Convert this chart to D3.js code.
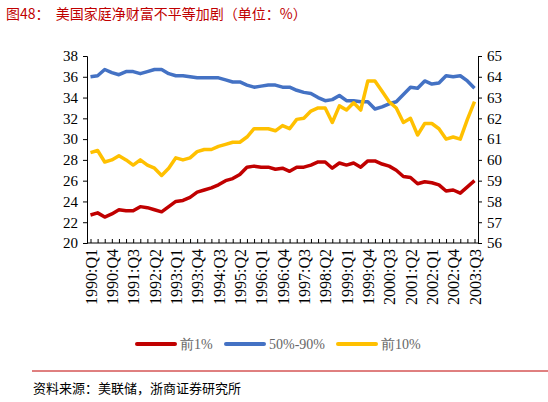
<!DOCTYPE html>
<html><head><meta charset="utf-8">
<script src="https://cdn.jsdelivr.net/npm/d3@7"></script>
<style>body{margin:0;background:#fff}</style></head>
<body><svg id="c" width="548" height="402"></svg>
<script>
// quarters 1990:Q1 .. 2003:Q3
const quarters = [];
for (let y = 1990; y <= 2003; y++) for (let q = 1; q <= 4; q++) if (!(y === 2003 && q === 4)) quarters.push(y + ":Q" + q);

const top1 = [22.7,22.9,22.5,22.8,23.2,23.1,23.1,23.5,23.4,23.2,
  23.0,23.5,24.0,24.1,24.4,24.9,25.1,25.3,25.6,26.0,
  26.2,26.6,27.3,27.4,27.3,27.3,27.1,27.2,26.9,27.3,
  27.3,27.5,27.8,27.8,27.2,27.7,27.5,27.7,27.3,27.9,
  27.9,27.6,27.4,27.0,26.4,26.3,25.7,25.9,25.8,25.6,
  25.0,25.1,24.8,25.4,26.0];
const mid50_90 = [36.0,36.1,36.7,36.4,36.2,36.5,36.5,36.3,36.5,36.7,
  36.7,36.3,36.1,36.1,36.0,35.9,35.9,35.9,35.9,35.7,
  35.5,35.5,35.2,35.0,35.1,35.2,35.2,35.0,35.0,34.7,
  34.5,34.4,34.0,33.7,33.8,34.2,33.7,33.7,33.6,33.6,
  32.9,33.1,33.4,33.6,34.3,35.0,34.9,35.6,35.3,35.4,
  36.1,36.0,36.1,35.6,34.9];
// right axis
const top10 = [60.35,60.45,59.9,60.0,60.2,60.0,59.75,60.0,59.75,59.6,
  59.25,59.6,60.1,60.0,60.1,60.4,60.5,60.5,60.65,60.75,
  60.85,60.85,61.1,61.5,61.5,61.5,61.4,61.65,61.5,61.95,
  62.0,62.35,62.5,62.5,61.8,62.6,62.4,62.75,62.4,63.8,
  63.8,63.3,62.8,62.5,61.8,62.0,61.2,61.75,61.75,61.5,
  61.0,61.1,61.0,61.95,62.8];

const leftTicks = d3.range(20, 39, 2);
const rightTicks = d3.range(56, 66, 1);

const svg = d3.select("#c");
const serif = "'Liberation Serif', serif";
const cjk = "'Noto Sans CJK SC', sans-serif";

svg.append("text").attr("x", 6).attr("y", 19).attr("fill", "#c00000")
  .attr("font-family", cjk).attr("font-size", 14).attr("xml:space", "preserve")
  .text("图48：  美国家庭净财富不平等加剧（单位：%）");

const x0 = 87, x1 = 478, yT = 56, yB = 243;
const x = d3.scalePoint().domain(quarters).range([x0 + 3.5, x1 - 3.5]);
const yL = d3.scaleLinear().domain([20, 38]).range([yB, yT]);
const yR = d3.scaleLinear().domain([56, 65]).range([yB, yT]);

const ax = (g) => g.selectAll("text").attr("font-family", serif).attr("font-size", 15).attr("fill", "#000");
svg.append("g").attr("transform", `translate(${x0},0)`)
  .call(d3.axisLeft(yL).tickValues(leftTicks).tickSize(4).tickPadding(5)).call(ax);
svg.append("g").attr("transform", `translate(${x1},0)`)
  .call(d3.axisRight(yR).tickValues(rightTicks).tickSize(4).tickPadding(5)).call(ax);
const xg = svg.append("g").attr("transform", `translate(0,${yB})`)
  .call(d3.axisBottom(x).tickSize(-4).tickFormat(d => quarters.indexOf(d) % 3 === 0 ? d : ""));
xg.select(".domain").attr("d", `M${x0},0H${x1}`);
xg.selectAll(".tick text").attr("font-family", serif).attr("font-size", 16).attr("fill", "#000")
  .attr("transform", "rotate(-90)").attr("text-anchor", "end").attr("dx", "-6").attr("dy", "0.35em")
  .attr("x", 0).attr("y", 0);
svg.selectAll(".domain").attr("stroke", "#000");

const line = (y) => d3.line().x((d, i) => x(quarters[i])).y(d => y(d));
const series = [
  {name: "前1%", data: top1, y: yL, color: "#c00000"},
  {name: "50%-90%", data: mid50_90, y: yL, color: "#4472c4"},
  {name: "前10%", data: top10, y: yR, color: "#ffc000"}
];
series.forEach(s => svg.append("path").datum(s.data).attr("d", line(s.y))
  .attr("fill", "none").attr("stroke", s.color).attr("stroke-width", 3.5).attr("stroke-linejoin", "round"));

const legX = [137, 226, 338];
series.forEach((s, i) => {
  const g = svg.append("g").attr("transform", `translate(${legX[i]},344)`);
  g.append("line").attr("x2", 38).attr("stroke", s.color).attr("stroke-width", 4).attr("stroke-linecap", "round");
  g.append("text").attr("x", 43).attr("y", 5).attr("font-family", serif).attr("font-size", 14)
    .attr("fill", "#666").text(s.name);
});

svg.append("line").attr("x1", 32).attr("x2", 548).attr("y1", 371).attr("y2", 371).attr("stroke", "#c00000");
svg.append("text").attr("x", 33).attr("y", 393).attr("font-family", cjk).attr("font-size", 13)
  .text("资料来源：美联储，浙商证券研究所");
</script></body></html>
